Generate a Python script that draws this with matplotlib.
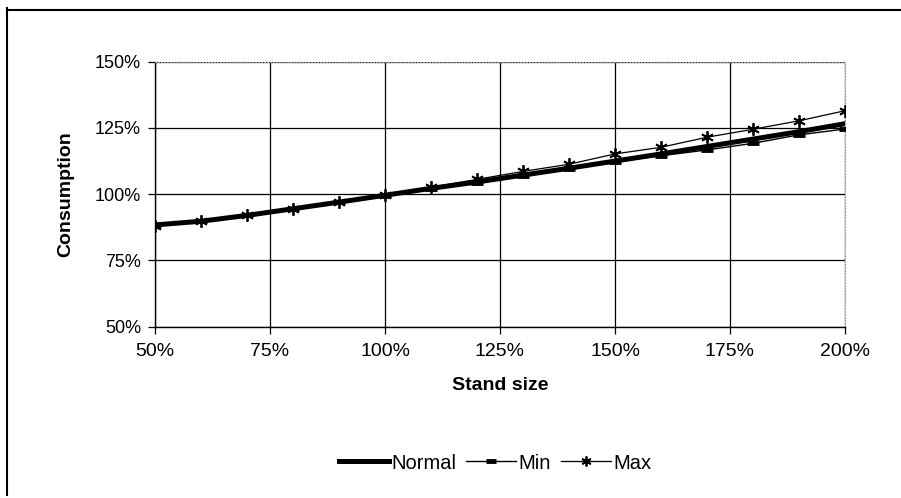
import matplotlib
matplotlib.use("Agg")
from matplotlib import pyplot as plt
from matplotlib.lines import Line2D
from matplotlib.ticker import PercentFormatter, MultipleLocator

stand_size = [0.5, 0.6, 0.7, 0.8, 0.9, 1.0, 1.1, 1.2, 1.3, 1.4, 1.5, 1.6, 1.7, 1.8, 1.9, 2.0]
normal = [0.884, 0.898, 0.920, 0.945, 0.970, 0.996, 1.022, 1.046, 1.072, 1.098,
          1.125, 1.152, 1.180, 1.208, 1.236, 1.266]
min_vals = [0.884, 0.898, 0.920, 0.945, 0.970, 0.995, 1.020, 1.044, 1.069, 1.095,
            1.122, 1.145, 1.167, 1.192, 1.224, 1.246]
max_vals = [0.880, 0.898, 0.920, 0.946, 0.971, 0.997, 1.026, 1.056, 1.086, 1.113,
            1.152, 1.177, 1.215, 1.245, 1.277, 1.315]

plt.rcParams["font.family"] = ["Liberation Sans", "DejaVu Sans"]

fig = plt.figure(figsize=(9.01, 4.98), dpi=100)
ax = fig.add_axes([155 / 901, 1 - 326.7 / 498, 690 / 901, 265 / 498])

ax.plot(stand_size, normal, color="black", linewidth=3.6, label="Normal", zorder=3)
ax.plot(stand_size, min_vals, color="black", linewidth=1.0, marker="_",
        markersize=9, markeredgewidth=3.5, label="Min", zorder=4)
ax.plot(stand_size, max_vals, color="black", linewidth=0.9, marker=(6, 2, 0),
        markersize=9, markeredgewidth=1.3, label="Max", zorder=5)

ax.set_xlim(0.5, 2.0)
ax.set_ylim(0.5, 1.5)
ax.xaxis.set_major_locator(MultipleLocator(0.25))
ax.yaxis.set_major_locator(MultipleLocator(0.25))
ax.xaxis.set_major_formatter(PercentFormatter(xmax=1, decimals=0))
ax.yaxis.set_major_formatter(PercentFormatter(xmax=1, decimals=0))
ax.grid(True, color="black", linewidth=0.9)
ax.set_axisbelow(True)
ax.tick_params(axis="both", direction="out", length=5, width=0.9)
ax.tick_params(axis="x", labelsize=14, pad=7)
ax.tick_params(axis="y", labelsize=13, pad=5)

for side in ["top", "right"]:
    ax.spines[side].set_linestyle(":")
    ax.spines[side].set_color("#999999")
for side in ["left", "bottom"]:
    ax.spines[side].set_linewidth(1.0)

ax.set_xlabel("Stand size", fontsize=14, fontweight="bold", labelpad=12)
ax.set_ylabel("Consumption", fontsize=14, fontweight="bold", labelpad=15)

fig.legend(loc="center", bbox_to_anchor=(495 / 901, 1 - 463 / 498), ncol=3,
           frameon=False, fontsize=14.5, handlelength=2.5, handletextpad=0.1,
           columnspacing=0.5, markerscale=0.8)

# scanned page frame
fig.add_artist(Line2D([7 / 901, 1], [1 - 10 / 498, 1 - 10 / 498], color="black",
                      linewidth=1.5, transform=fig.transFigure))
fig.add_artist(Line2D([7 / 901, 7 / 901], [1 - 8 / 498, 1 - 495 / 498], color="black",
                      linewidth=1.5, transform=fig.transFigure))

fig.savefig("out.png", dpi=100)
plt.close(fig)
